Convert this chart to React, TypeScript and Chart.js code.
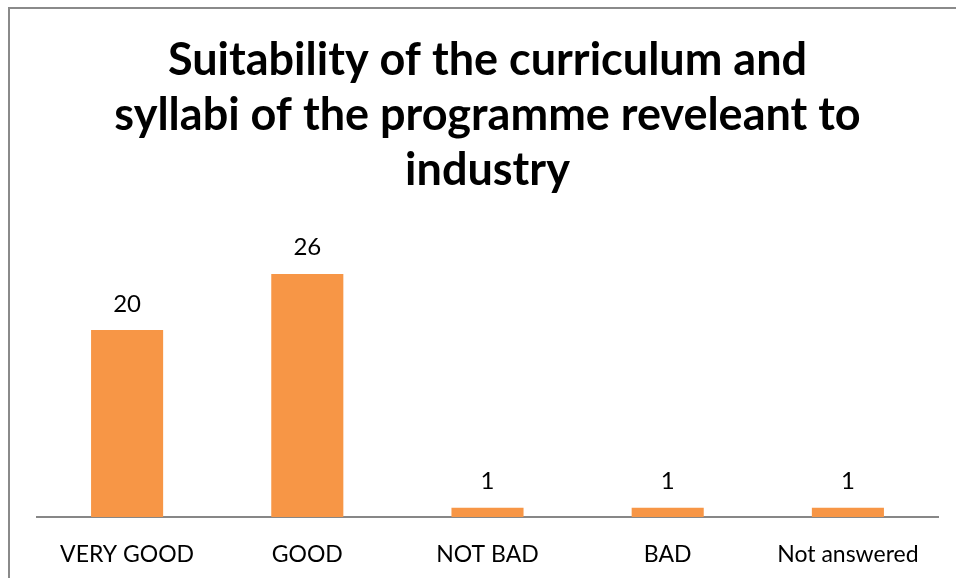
import React, { useEffect, useRef } from "react";
import { Chart, registerables } from "chart.js";

Chart.register(...registerables);

const categories = ["VERY GOOD", "GOOD", "NOT BAD", "BAD", "Not answered"];
const counts = [20, 26, 1, 1, 1];
const titleLines = [
  "Suitability of the curriculum and",
  "syllabi of the programme reveleant to",
  "industry",
];
const yMin = 0;
const yMax = 30;

const FONT = "Lato, 'Open Sans', sans-serif";

const titlePlugin = {
  id: "titleLines",
  afterDraw(chart: any) {
    const { ctx, chartArea } = chart;
    ctx.save();
    ctx.font = `bold 45px ${FONT}`;
    ctx.fillStyle = "#000000";
    ctx.textAlign = "center";
    ctx.textBaseline = "alphabetic";
    const cx = (chartArea.left + chartArea.right) / 2;
    titleLines.forEach((line, i) => ctx.fillText(line, cx, 66 + i * 55));
    ctx.restore();
  },
};

const valuePlugin = {
  id: "valueLabels",
  afterDatasetsDraw(chart: any) {
    const { ctx } = chart;
    const meta = chart.getDatasetMeta(0);
    ctx.save();
    ctx.font = `24px ${FONT}`;
    ctx.fillStyle = "#000000";
    ctx.textAlign = "center";
    ctx.textBaseline = "alphabetic";
    meta.data.forEach((bar: any, i: number) => {
      ctx.fillText(String(counts[i]), bar.x, bar.y - 18.5);
    });
    ctx.restore();
  },
};

export default function App() {
  const ref = useRef<HTMLCanvasElement | null>(null);

  useEffect(() => {
    if (!ref.current) return;
    const chart = new Chart(ref.current, {
      type: "bar",
      data: {
        labels: categories,
        datasets: [
          {
            data: counts,
            backgroundColor: "#F79646",
            borderWidth: 0,
            barPercentage: 0.4,
            categoryPercentage: 1,
          },
        ],
      },
      options: {
        responsive: false,
        animation: false,
        devicePixelRatio: 1,
        layout: { padding: { left: 27, right: 18, top: 227.5, bottom: 0 } },
        plugins: {
          legend: { display: false },
          title: { display: false },
          tooltip: { enabled: false },
        },
        scales: {
          y: { display: false, min: yMin, max: yMax },
          x: {
            afterFit(scale: any) {
              scale.height = 61;
            },
            grid: { display: false },
            border: { display: true, color: "#878787", width: 2 },
            ticks: {
              padding: 16,
              color: "#000000",
              font: { family: FONT, size: 23 },
              maxRotation: 0,
              autoSkip: false,
            },
          },
        },
      },
      plugins: [titlePlugin, valuePlugin],
    });
    return () => chart.destroy();
  }, []);

  return (
    <div
      style={{
        position: "absolute",
        left: 8,
        top: 7,
        width: 946,
        height: 569,
        overflow: "hidden",
        borderTop: "2px solid #8a8a8a",
        borderLeft: "2px solid #8a8a8a",
        background: "#ffffff",
      }}
    >
      <canvas ref={ref} width={946} height={569} style={{ display: "block" }} />
    </div>
  );
}
